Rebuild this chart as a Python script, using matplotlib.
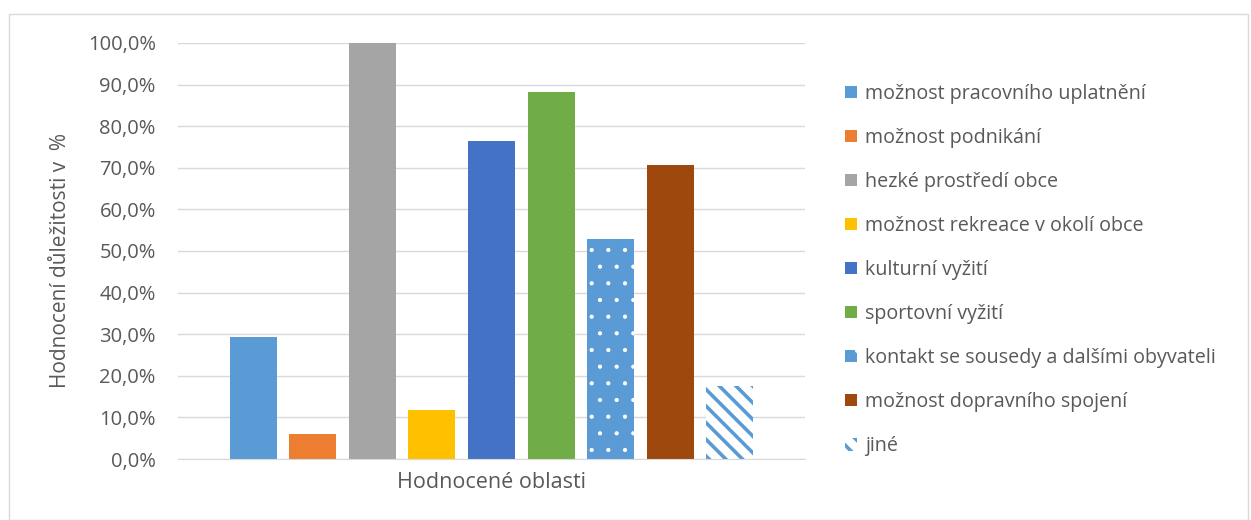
import numpy as np
import matplotlib.pyplot as plt
from matplotlib.patches import Rectangle
from matplotlib.ticker import FuncFormatter

plt.rcParams['font.family'] = ['Open Sans', 'DejaVu Sans']

# data
series = ['možnost pracovního uplatnění', 'možnost podnikání', 'hezké prostředí obce',
          'možnost rekreace v okolí obce', 'kulturní vyžití', 'sportovní vyžití',
          'kontakt se sousedy a dalšími obyvateli', 'možnost dopravního spojení', 'jiné']
values = [29.4, 5.9, 100.0, 11.8, 76.5, 88.2, 52.9, 70.6, 17.6]
category = 'Hodnocené oblasti'
y_label = 'Hodnocení důležitosti v  %'

colors = ['#5b9bd5', '#ed7d31', '#a5a5a5', '#ffc000', '#4472c4', '#70ad47',
          '#5b9bd5', '#9e480e', '#5b9bd5']
text_col = '#595959'

fig = plt.figure(figsize=(12.51, 5.2), dpi=100)
fig.patches.append(Rectangle((9 / 1251, 0), 1239 / 1251, 506 / 520, transform=fig.transFigure,
                             fill=False, edgecolor='#d9d9d9', linewidth=1))
ax = fig.add_axes([178 / 1251, 61 / 520, 627 / 1251, 416 / 520])

x = np.arange(len(values))
handles = []
for i, (name, v, c) in enumerate(zip(series, values, colors)):
    if i == 6:
        plt.rcParams['hatch.linewidth'] = 0.6
        b = ax.bar(x[i], v, 0.79, color=c, edgecolor='white', linewidth=0, hatch='.', label=name)
    elif i == 8:
        plt.rcParams['hatch.linewidth'] = 2.6
        b = ax.bar(x[i], v, 0.79, color='white', edgecolor=c, linewidth=0, hatch='\\\\', label=name)
    else:
        b = ax.bar(x[i], v, 0.79, color=c, linewidth=0, label=name)
    handles.append(b)

ax.set_xlim(-1.26, 9.26)
ax.set_ylim(0, 100)
ax.set_yticks(np.arange(0, 101, 10))
ax.yaxis.set_major_formatter(FuncFormatter(lambda v, p: f'{v:.1f}%'.replace('.', ',')))
ax.set_xticks([4], [category])
ax.grid(axis='y', color='#d9d9d9', linewidth=1)
ax.set_axisbelow(True)
for s in ['top', 'right', 'left']:
    ax.spines[s].set_visible(False)
ax.spines['bottom'].set_color('#d9d9d9')
ax.tick_params(axis='both', length=0, colors=text_col)
ax.tick_params(axis='y', pad=16, labelsize=14.5)
ax.tick_params(axis='x', pad=9, labelsize=15.5)
ax.set_ylabel(y_label, color=text_col, fontsize=15)
ax.yaxis.set_label_coords(-0.171, 0.478)

leg = fig.legend(handles=handles, loc='upper left', bbox_to_anchor=(827 / 1251, 1 - 66 / 520),
                 frameon=False, fontsize=14.2, labelcolor=text_col, handlelength=0.6,
                 handleheight=0.6, handletextpad=0.45, labelspacing=1.22)

fig.savefig('out.png', dpi=100)
